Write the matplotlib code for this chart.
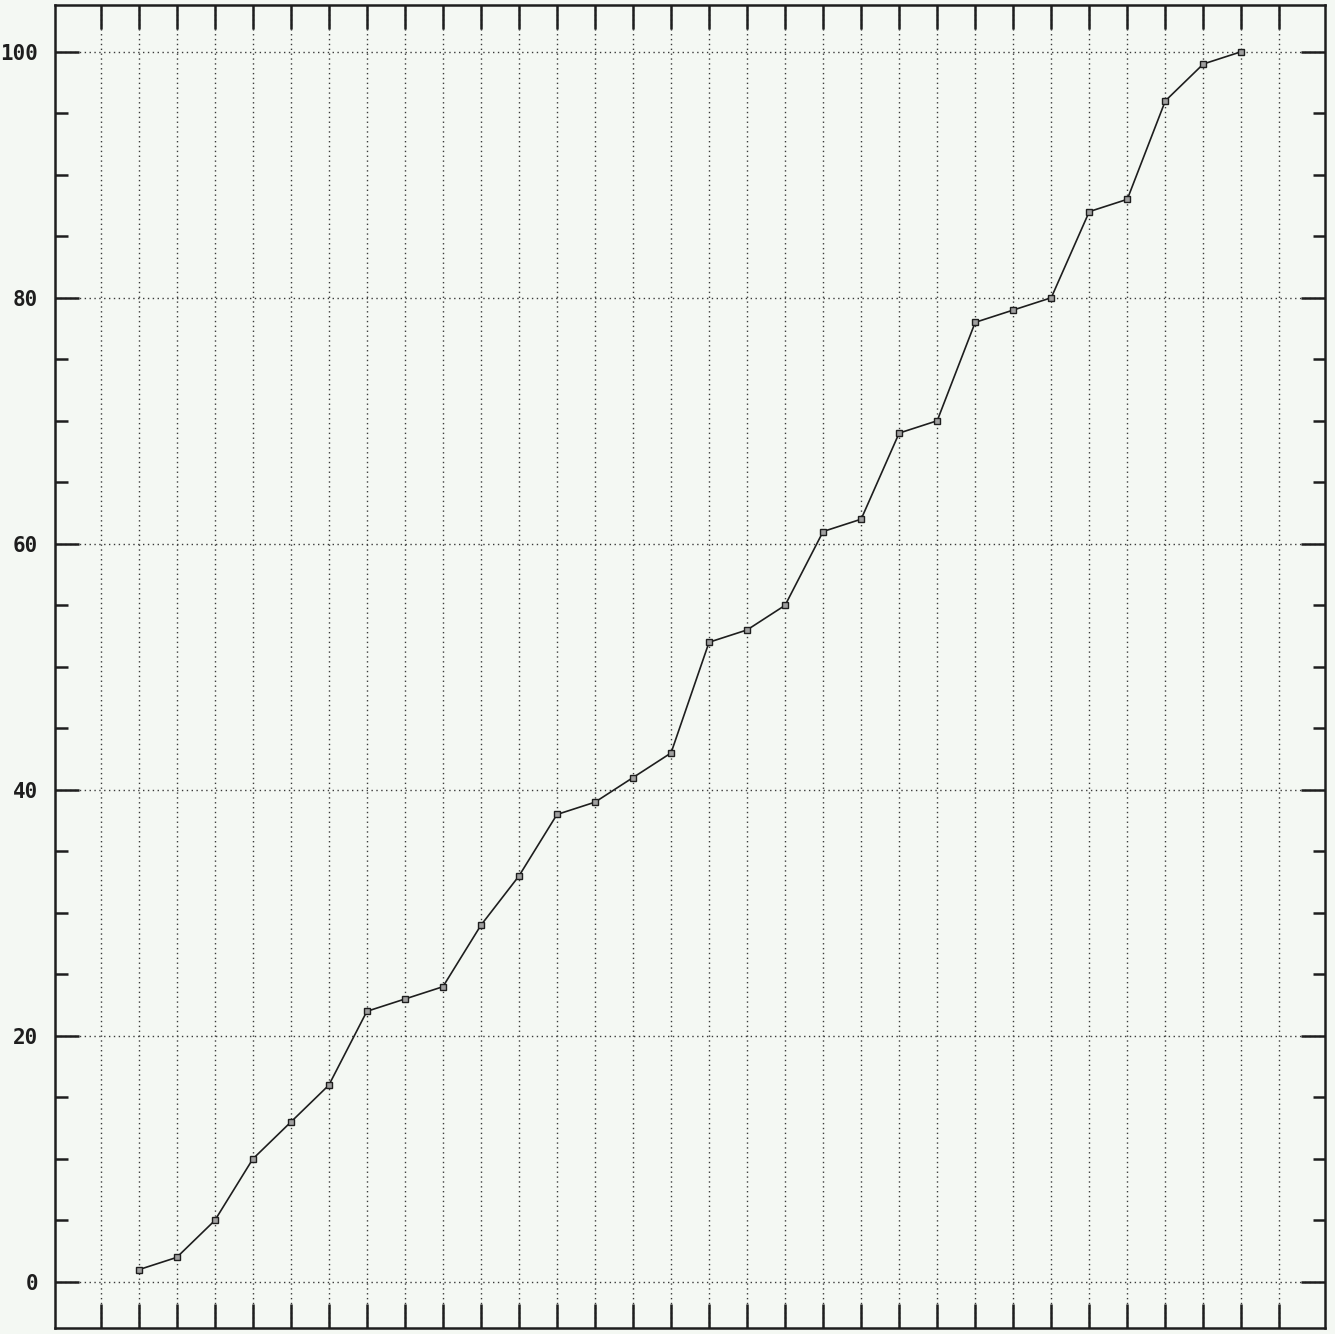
import matplotlib
matplotlib.use("Agg")
import matplotlib.pyplot as plt
import numpy as np

plt.rcParams["font.family"] = "DejaVu Sans Mono"

# Datos
pos = list(range(1, 31))
valores = [1, 2, 5, 10, 13, 16, 22, 23, 24, 29, 33, 38, 39, 41, 43,
           52, 53, 55, 61, 62, 69, 70, 78, 79, 80, 87, 88, 96, 99, 100]
y_mayores = [0, 20, 40, 60, 80, 100]
y_etiquetas = ["0", "20", "40", "60", "80", "100"]
y_menores = list(range(0, 101, 5))
x_rejilla = list(range(0, 32))

fondo = "#f4f8f3"
tinta = "#1e1e1e"

fig = plt.figure(figsize=(13.35, 13.34), dpi=100, facecolor=fondo)
ax = fig.add_axes([0.041, 0.0045, 0.9515, 0.9918], facecolor=fondo)

ax.set_xlim(-1.21, 32.2)
ax.set_ylim(-3.74, 103.8)

# rejilla punteada
for x in x_rejilla:
    ax.axvline(x, color="#3a3a3a", linestyle=(0, (1, 2.5)), linewidth=1.0, zorder=1)
for y in y_mayores:
    ax.axhline(y, color="#3a3a3a", linestyle=(0, (1, 2.5)), linewidth=1.0, zorder=1)

# curva
ax.plot(pos, valores, color=tinta, linewidth=1.2, marker="s", markersize=4.5,
        markerfacecolor="#a0a0a0", markeredgecolor=tinta, markeredgewidth=1.0, zorder=3)

# ejes y ticks
for s in ax.spines.values():
    s.set_linewidth(1.8)
    s.set_color(tinta)

ax.set_xticks(x_rejilla)
ax.set_xticklabels([])
ax.tick_params(axis="x", which="major", direction="in", length=17, width=1.8,
               top=True, bottom=True, color=tinta)

ax.set_yticks(y_mayores)
ax.set_yticklabels(y_etiquetas, fontsize=15, fontweight="bold", color=tinta)
ax.set_yticks(y_menores, minor=True)
ax.tick_params(axis="y", which="major", direction="in", length=17, width=1.8,
               left=True, right=True, pad=12, color=tinta)
ax.tick_params(axis="y", which="minor", direction="in", length=9, width=1.8,
               left=True, right=True, color=tinta)

plt.savefig("out.png", dpi=100, facecolor=fondo)
